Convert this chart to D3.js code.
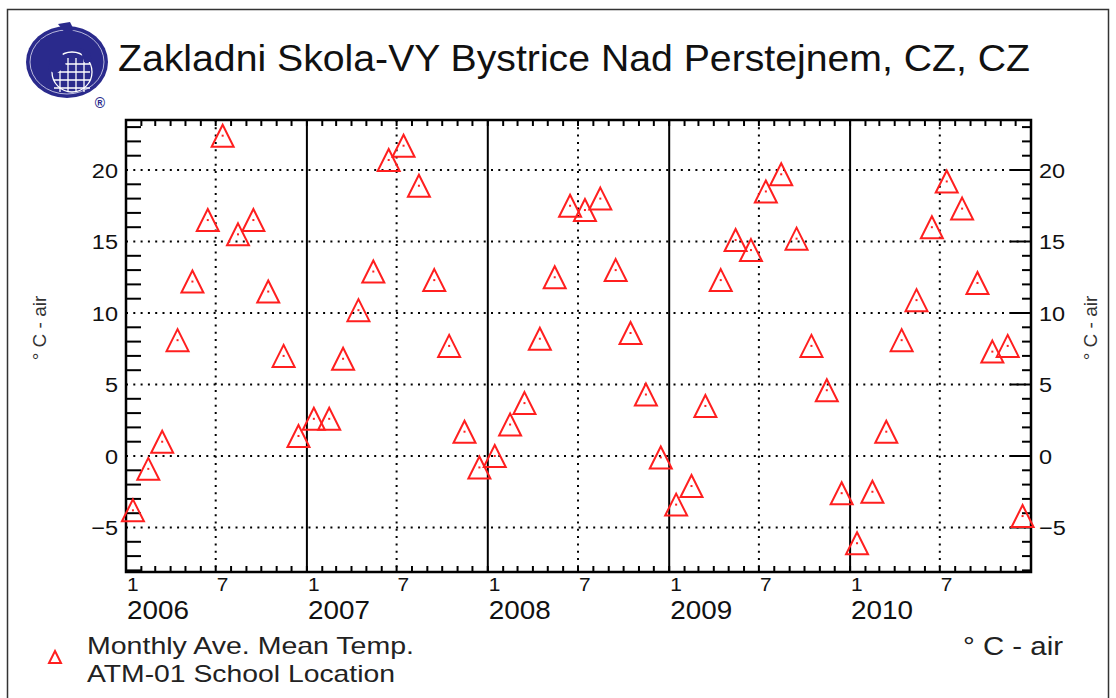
<!DOCTYPE html>
<html>
<head>
<meta charset="utf-8">
<script src="https://cdn.jsdelivr.net/npm/d3@7"></script>
<style>
  body { margin: 0; background: #fff; }
  text { font-family: "Liberation Sans", Arial, Helvetica, sans-serif; fill: #111; }
</style>
</head>
<body>
<svg id="chart" width="1116" height="698"></svg>
<script>
// monthly ave. mean temp, deg C, one array per year (Jan..Dec)
const years = [2006, 2007, 2008, 2009, 2010]
const t2006 = [-3.8, -0.9, 1.0, 8.1, 12.2, 16.5, 22.4, 15.5, 16.5, 11.5, 7.0, 1.4]
const t2007 = [2.6, 2.6, 6.8, 10.2, 12.9, 20.7, 21.7, 18.9, 12.3, 7.7, 1.7, -0.8]
const t2008 = [0.0, 2.2, 3.7, 8.2, 12.5, 17.5, 17.2, 18.0, 13.0, 8.6, 4.3, -0.1]
const t2009 = [-3.4, -2.1, 3.5, 12.3, 15.1, 14.4, 18.5, 19.7, 15.2, 7.7, 4.6, -2.6]
const t2010 = [-6.1, -2.5, 1.7, 8.1, 10.9, 16.0, 19.2, 17.3, 12.1, 7.3, 7.7, -4.2]
const yTicks = [-5, 0, 5, 10, 15, 20]
const monthLabels = { 0: '1', 6: '7' }

const title = 'Zakladni Skola-VY Bystrice Nad Perstejnem, CZ, CZ'
const unitLabel = '\u00b0 C - air'
const legendLines = ['Monthly Ave. Mean Temp.', 'ATM-01 School Location']

let series = [t2006, t2007, t2008, t2009, t2010]
let data = []
series.forEach((arr, i) => {
	arr.forEach((v, m) => {
		data.push({ date: new Date(years[i], m, 15), value: v })
	})
})

let svg = d3.select('#chart')

let pLeft = 126, pRight = 1031, pTop = 120, pBottom = 572
let red = '#ff1f1f'

// outer frame
svg.append('rect')
	.attr('x', 7.5).attr('y', 9.5)
	.attr('width', 1101).attr('height', 700)
	.attr('fill', 'none')
	.attr('stroke', '#333')
	.attr('stroke-width', 1.5)

// logo
let logo = svg.append('g')
logo.append('ellipse')
	.attr('cx', 67).attr('cy', 62).attr('rx', 41).attr('ry', 36)
	.attr('fill', '#2a2a8c')
logo.append('ellipse')
	.attr('cx', 67).attr('cy', 62).attr('rx', 37).attr('ry', 32)
	.attr('fill', 'none').attr('stroke', '#dcdcf0').attr('stroke-width', 0.8)
logo.append('path')
	.attr('d', 'M58,24 L70,22 L74,30 L66,34 Z M40,40 L48,36 L52,48 L44,52 Z')
	.attr('fill', '#2a2a8c')
let globe = logo.append('g').attr('stroke', '#fff').attr('stroke-width', 1.3).attr('fill', 'none')
globe.append('circle').attr('cx', 72).attr('cy', 72).attr('r', 20)
;[60, 68, 76, 84].forEach(x => {
	globe.append('line').attr('x1', x).attr('x2', x).attr('y1', 58).attr('y2', 92)
})
;[64, 72, 80, 88].forEach(y => {
	globe.append('line').attr('x1', 54).attr('x2', 90).attr('y1', y).attr('y2', y)
})
logo.append('path')
	.attr('d', 'M50,60 L62,52 L66,66 L56,74 L48,70 Z M80,48 L90,52 L92,62 L84,62 Z')
	.attr('fill', '#2a2a8c')
logo.append('text')
	.attr('x', 100).attr('y', 108)
	.attr('text-anchor', 'middle')
	.style('font-size', '14px').style('font-weight', 'bold')
	.style('fill', '#2a2a8c')
	.text('\u00ae')

// title
svg.append('text')
	.attr('x', 118).attr('y', 71)
	.attr('textLength', 912).attr('lengthAdjust', 'spacingAndGlyphs')
	.style('font-size', '37px')
	.text(title)

let x = d3.scaleTime()
	.domain([new Date(2006, 0, 1), new Date(2011, 0, 1)])
	.range([pLeft, pRight])

let y = d3.scaleLinear()
	.domain([-(pBottom - 456) / 14.3, (456 - pTop) / 14.3])
	.range([pBottom, pTop])

let months = d3.timeMonth.range(new Date(2006, 0, 1), new Date(2011, 0, 1))

// grid: horizontal dotted
svg.append('g')
	.selectAll('line')
	.data(yTicks)
	.join('line')
	.attr('x1', pLeft).attr('x2', pRight)
	.attr('y1', d => y(d)).attr('y2', d => y(d))
	.attr('stroke', '#000').attr('stroke-width', 2)
	.attr('stroke-dasharray', '2 5.3')

// vertical: dotted at July, solid at January
svg.append('g')
	.selectAll('line')
	.data(months.filter(d => d.getMonth() === 6))
	.join('line')
	.attr('x1', d => x(d)).attr('x2', d => x(d))
	.attr('y1', pTop).attr('y2', pBottom)
	.attr('stroke', '#000').attr('stroke-width', 2)
	.attr('stroke-dasharray', '2 5.3')

svg.append('g')
	.selectAll('line')
	.data(months.filter(d => d.getMonth() === 0 && d.getFullYear() > 2006))
	.join('line')
	.attr('x1', d => x(d)).attr('x2', d => x(d))
	.attr('y1', pTop).attr('y2', pBottom)
	.attr('stroke', '#000').attr('stroke-width', 2)

// month ticks top and bottom
let mt = svg.append('g').attr('stroke', '#000').attr('stroke-width', 2)
months.forEach(d => {
	mt.append('line').attr('x1', x(d)).attr('x2', x(d)).attr('y1', pTop).attr('y2', pTop + 6)
	mt.append('line').attr('x1', x(d)).attr('x2', x(d)).attr('y1', pBottom).attr('y2', pBottom - 6)
})

// y minor/major ticks
let minor = d3.range(-8, 24).filter(v => v % 5 !== 0)
let yt = svg.append('g').attr('stroke', '#000').attr('stroke-width', 2)
minor.forEach(v => {
	yt.append('line').attr('x1', pLeft).attr('x2', pLeft + 15).attr('y1', y(v)).attr('y2', y(v))
	yt.append('line').attr('x1', pRight).attr('x2', pRight - 9).attr('y1', y(v)).attr('y2', y(v))
})
yTicks.forEach(v => {
	yt.append('line').attr('x1', pRight).attr('x2', pRight - 21).attr('y1', y(v)).attr('y2', y(v))
})

// frame
svg.append('rect')
	.attr('x', pLeft).attr('y', pTop)
	.attr('width', pRight - pLeft).attr('height', pBottom - pTop)
	.attr('fill', 'none').attr('stroke', '#000').attr('stroke-width', 2.5)

let fmt = v => (v < 0 ? '\u2212' : '') + Math.abs(v)

// y tick labels
svg.append('g')
	.selectAll('text')
	.data(yTicks)
	.join('text')
	.attr('text-anchor', 'end')
	.attr('transform', d => `translate(118,${y(d) + 7.5}) scale(1.12,1)`)
	.style('font-size', '21px')
	.text(fmt)

svg.append('g')
	.selectAll('text')
	.data(yTicks)
	.join('text')
	.attr('transform', d => `translate(1039,${y(d) + 7.5}) scale(1.12,1)`)
	.style('font-size', '21px')
	.text(fmt)

// x labels
svg.append('g')
	.selectAll('text')
	.data(months.filter(d => monthLabels[d.getMonth()]))
	.join('text')
	.attr('transform', d => `translate(${x(d) + 1},591) scale(1.1,1)`)
	.style('font-size', '19px')
	.text(d => monthLabels[d.getMonth()])

svg.append('g')
	.selectAll('text')
	.data(months.filter(d => d.getMonth() === 0))
	.join('text')
	.attr('x', d => x(d) + 1).attr('y', 619)
	.attr('textLength', 62).attr('lengthAdjust', 'spacingAndGlyphs')
	.style('font-size', '25px')
	.text(d => d.getFullYear())

// axis titles
svg.append('text')
	.attr('transform', 'translate(46,328) rotate(-90)')
	.attr('text-anchor', 'middle')
	.style('font-size', '19px').style('fill', '#333')
	.text(unitLabel)

svg.append('text')
	.attr('transform', 'translate(1097,328) rotate(-90)')
	.attr('text-anchor', 'middle')
	.style('font-size', '19px').style('fill', '#333')
	.text(unitLabel)

// data triangles
let tri = 'M0,-11 L11,11 L-11,11 Z'
let pts = svg.append('g')
	.selectAll('g')
	.data(data)
	.join('g')
	.attr('transform', d => `translate(${x(d.date)},${y(d.value)})`)
pts.append('path')
	.attr('d', tri)
	.attr('fill', 'none').attr('stroke', red).attr('stroke-width', 2)
pts.append('rect')
	.attr('x', -1).attr('y', -1).attr('width', 2).attr('height', 2)
	.attr('fill', red)

// legend
svg.append('path')
	.attr('transform', 'translate(55,657)')
	.attr('d', 'M0,-6 L6,6 L-6,6 Z')
	.attr('fill', 'none').attr('stroke', red).attr('stroke-width', 2)

svg.append('text')
	.attr('x', 87).attr('y', 654)
	.attr('textLength', 327).attr('lengthAdjust', 'spacingAndGlyphs')
	.style('font-size', '24px').style('fill', '#222')
	.text(legendLines[0])

svg.append('text')
	.attr('x', 87).attr('y', 682)
	.attr('textLength', 308).attr('lengthAdjust', 'spacingAndGlyphs')
	.style('font-size', '24px').style('fill', '#222')
	.text(legendLines[1])

svg.append('text')
	.attr('x', 963).attr('y', 655)
	.attr('textLength', 100).attr('lengthAdjust', 'spacingAndGlyphs')
	.style('font-size', '26px').style('fill', '#222')
	.text(unitLabel)
</script>
</body>
</html>
